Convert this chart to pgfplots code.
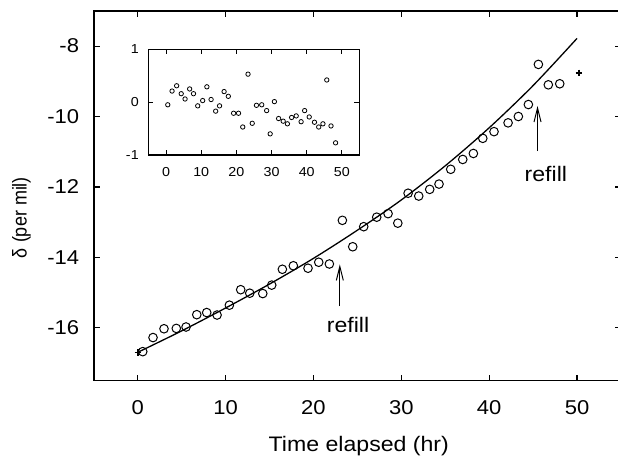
\documentclass[border=0pt]{standalone}
\usepackage{fontspec}
\setmainfont{Liberation Sans}
\usepackage{pgfplots}
\pgfplotsset{compat=1.18}
\usetikzlibrary{arrows.meta}

\pgfplotstableread{
x y
0.57 -16.68
1.74 -16.28
2.99 -16.03
4.39 -16.02
5.50 -15.98
6.72 -15.63
7.85 -15.57
9.03 -15.64
10.43 -15.36
11.72 -14.92
12.75 -15.02
14.23 -15.03
15.25 -14.79
16.46 -14.34
17.71 -14.24
19.38 -14.31
20.60 -14.14
21.81 -14.19
23.29 -12.95
24.47 -13.70
25.72 -13.13
27.20 -12.86
28.49 -12.76
29.60 -13.03
30.77 -12.18
31.98 -12.26
33.23 -12.07
34.29 -11.92
35.62 -11.50
36.99 -11.22
38.20 -11.05
39.27 -10.62
40.55 -10.43
42.15 -10.18
43.32 -10.00
44.46 -9.66
45.60 -8.52
46.73 -9.10
48.03 -9.07
}\maindata

\pgfplotstableread{
x y
0 -16.70
5 -16.09
10 -15.44
15 -14.76
20 -14.03
25 -13.23
30 -12.37
35 -11.40
40 -10.32
45 -9.12
50 -7.78
}\fitdata

\pgfplotstableread{
x y
0.48 -0.05
1.7 0.21
3.0 0.31
4.3 0.16
5.4 0.06
6.7 0.25
7.8 0.16
9.0 -0.07
10.4 0.03
11.6 0.29
12.8 0.05
14.1 -0.17
15.2 -0.07
16.5 0.20
17.7 0.11
19.2 -0.21
20.6 -0.21
21.8 -0.47
23.3 0.53
24.5 -0.40
25.7 -0.06
27.2 -0.05
28.6 -0.16
29.6 -0.60
30.8 0.01
32.0 -0.31
33.3 -0.36
34.5 -0.41
35.7 -0.29
37.0 -0.26
38.4 -0.37
39.4 -0.16
40.7 -0.28
42.2 -0.38
43.4 -0.47
44.6 -0.41
45.7 0.42
46.9 -0.45
48.2 -0.77
}\resdata

\begin{document}
\begin{tikzpicture}
\begin{axis}[
  at={(0,0)}, anchor=south west,
  scale only axis, width=263.6pt, height=184.8pt,
  xmin=-5, xmax=55, ymin=-17.5, ymax=-7,
  xtick={0,10,20,30,40,50}, xticklabels={0,10,20,30,40,50},
  ytick={-16,-14,-12,-10,-8}, yticklabels={-16,-14,-12,-10,-8},
  tick align=inside, major tick length=3pt,
  axis line style={line width=0.8pt},
  every tick/.style={black, line width=0.6pt},
  xticklabel style={font=\fontsize{10}{12}\selectfont, xscale=1.1, inner sep=0pt, anchor=north, yshift=-9.75pt},
  yticklabel style={font=\fontsize{10}{12}\selectfont, xscale=1.1, inner sep=0pt, anchor=east, xshift=-6.5pt},
  clip=false,
]
\addplot[black, line width=0.65pt, smooth] table[x=x,y=y] {\fitdata};
\addplot[only marks, mark=o, mark size=2.15pt, mark options={line width=0.5pt, black}] table[x=x,y=y] {\maindata};
\addplot[only marks, mark=+, mark size=1.6pt, mark options={line width=0.8pt, black}] coordinates {(0,-16.71) (50.2,-8.76)};
\draw[line width=0.5pt, -{Straight Barb[length=7pt,width=3.5pt]}] (axis cs:23.0,-15.39) -- (axis cs:23.0,-14.20);
\draw[line width=0.5pt, -{Straight Barb[length=7pt,width=3.5pt]}] (axis cs:45.5,-10.98) -- (axis cs:45.5,-9.70);
\node[anchor=base, font=\fontsize{10.5}{12}\selectfont, xscale=1.1] at (axis cs:23.94,-16.125) {refill};
\node[anchor=base, font=\fontsize{10.5}{12}\selectfont, xscale=1.1] at (axis cs:46.45,-11.835) {refill};
\end{axis}

\begin{axis}[
  at={(27.35pt,112.75pt)}, anchor=south west,
  scale only axis, width=105.5pt, height=52.85pt,
  xmin=-5, xmax=55, ymin=-1, ymax=1,
  xtick={0,10,20,30,40,50}, xticklabels={0,10,20,30,40,50},
  ytick={-1,0,1}, yticklabels={-1,0,1},
  tick align=inside, major tick length=2.5pt,
  axis background/.style={fill=white},
  axis line style={line width=0.6pt},
  every tick/.style={black, line width=0.5pt},
  xticklabel style={font=\fontsize{6.5}{8}\selectfont, xscale=1.1, inner sep=0pt, anchor=north, yshift=-5.85pt},
  yticklabel style={font=\fontsize{6.5}{8}\selectfont, xscale=1.1, inner sep=0pt, anchor=east, xshift=-4.25pt},
]
\addplot[only marks, mark=o, mark size=1.1pt, mark options={line width=0.4pt, black}] table[x=x,y=y] {\resdata};
\end{axis}

\node[rotate=90, xscale=0.9, anchor=base, font=\fontsize{10}{12}\selectfont] at (-33.55pt,81.5pt) {δ\ (per mil)};
\node[anchor=base, font=\fontsize{10.5}{12}\selectfont, xscale=1.1] at (132.5pt,-35.25pt) {Time elapsed (hr)};

\pgfresetboundingbox
\path[use as bounding box] (-46.9pt,-38.25pt) rectangle (262.1pt,190.25pt);
\end{tikzpicture}
\end{document}
